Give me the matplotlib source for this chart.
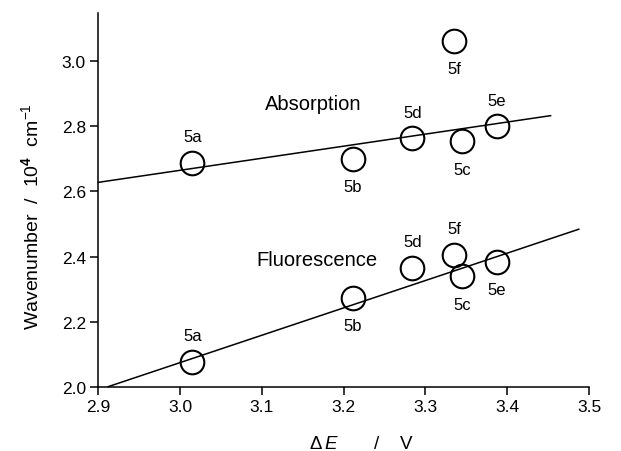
import matplotlib
matplotlib.use("Agg")
import matplotlib.pyplot as plt

plt.rcParams["font.family"] = ["Liberation Sans", "DejaVu Sans"]
plt.rcParams["mathtext.fontset"] = "custom"
plt.rcParams["mathtext.rm"] = "Liberation Sans"
plt.rcParams["mathtext.it"] = "Liberation Sans:italic"
plt.rcParams["mathtext.bf"] = "Liberation Sans:bold"

# compound labels and their delta E (V)
labels = ["5a", "5b", "5c", "5d", "5e", "5f"]
delta_e = [3.015, 3.211, 3.345, 3.284, 3.387, 3.335]

# wavenumbers / 10^4 cm^-1
absorption = [2.687, 2.700, 2.754, 2.763, 2.800, 3.062]
fluorescence = [2.075, 2.272, 2.339, 2.364, 2.384, 2.405]

# where each label sits relative to its circle
abs_side = ["above", "below", "below", "above", "above", "below"]
flu_side = ["above", "below", "below", "above", "below", "above"]

# straight fit lines (end points)
abs_fit_x = [2.900, 3.453]
abs_fit_y = [2.628, 2.833]
flu_fit_x = [2.912, 3.4875]
flu_fit_y = [2.000, 2.484]

fig = plt.figure(figsize=(6.21, 4.52), dpi=100)
ax = fig.add_axes([0.1583, 0.1423, 0.7902, 0.8278])

ax.plot(abs_fit_x, abs_fit_y, color="black", lw=1.1, clip_on=False)
ax.plot(flu_fit_x, flu_fit_y, color="black", lw=1.1, clip_on=False)

marker_style = dict(linestyle="none", marker="o", markersize=17,
                    markerfacecolor="none", markeredgecolor="black",
                    markeredgewidth=1.5, clip_on=False)
ax.plot(delta_e, absorption, **marker_style)
ax.plot(delta_e, fluorescence, **marker_style)

for ys, sides in ((absorption, abs_side), (fluorescence, flu_side)):
    for name, x, y, side in zip(labels, delta_e, ys, sides):
        dy = 19 if side == "above" else -20
        ax.annotate(name, (x, y), xytext=(0, dy), textcoords="offset points",
                    ha="center", va="center", fontsize=12)

ax.text(3.1625, 2.869, "Absorption", ha="center", va="center", fontsize=14.5)
ax.text(3.167, 2.392, "Fluorescence", ha="center", va="center", fontsize=14.5)

ax.set_xlim(2.9, 3.5)
ax.set_ylim(2.0, 3.15)
ax.set_xticks([2.9, 3.0, 3.1, 3.2, 3.3, 3.4, 3.5])
ax.set_yticks([2.0, 2.2, 2.4, 2.6, 2.8, 3.0])
ax.xaxis.set_major_formatter(matplotlib.ticker.FormatStrFormatter("%.1f"))
ax.yaxis.set_major_formatter(matplotlib.ticker.FormatStrFormatter("%.1f"))

for side in ("top", "right"):
    ax.spines[side].set_visible(False)
for side in ("left", "bottom"):
    ax.spines[side].set_linewidth(1.1)
ax.tick_params(direction="out", length=6, width=1.1, labelsize=12.5, pad=3)

ax.set_xlabel(r"$\Delta\,\mathit{E}$       /    V", fontsize=13.5)
ax.xaxis.set_label_coords(0.535, -0.13)
ax.set_ylabel(r"Wavenumber  /  10$^{\mathbf{4}}$  cm$^{-1}$", fontsize=14)
ax.yaxis.set_label_coords(-0.115, 0.456)

fig.savefig("out.png", dpi=100)
